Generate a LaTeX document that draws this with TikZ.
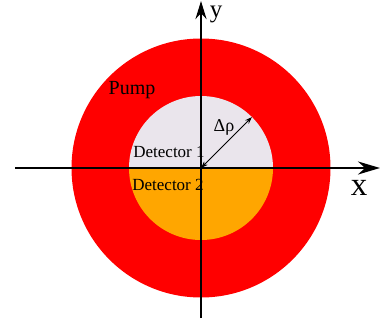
\documentclass[tikz,border=0pt]{standalone}
\usepackage{fontspec}
\setmainfont{Liberation Serif}
\usetikzlibrary{arrows.meta,calc}
\definecolor{pumpred}{RGB}{255,0,0}
\definecolor{detone}{RGB}{234,229,236}
\definecolor{dettwo}{RGB}{255,166,0}
\begin{document}
\begin{tikzpicture}[x=1pt,y=-1pt,
  axis/.style={line width=2.6pt,-{Stealth[length=22pt,width=13pt]}},
  lbl/.style={inner sep=0pt,font=\fontsize{17}{19}\selectfont},
]
\useasboundingbox (0,0) rectangle (383,324);
\coordinate (c) at (201,168);
% pump ring
\fill[pumpred] (c) circle[radius=129.5];
% detector halves
\fill[detone] (c) ++(-72,0) arc[start angle=180,end angle=360,radius=72] -- cycle;
\fill[dettwo] (c) ++(-72,0) arc[start angle=180,end angle=0,radius=72] -- cycle;
% axes
\coordinate (xs) at (15,168);
\coordinate (xe) at (380,168);
\coordinate (ys) at (201,318);
\coordinate (ye) at (201,1);
\draw[axis] (xs) -- (xe);
\draw[axis,-{Stealth[length=18pt,width=11pt]}] (ys) -- (ye);
% delta rho arrow
\coordinate (rim) at ($(c)+(50.9,-50.9)$);
\draw[line width=0.9pt,{Stealth[length=7pt,width=5pt]}-{Stealth[length=7pt,width=5pt]}] (c) -- (rim);
% labels
\node[lbl,font=\fontsize{18}{20}\selectfont] (drho) at (224,127) {Δρ};
\node[lbl] (d1) at (169,152) {Detector 1};
\node[lbl] (d2) at (168,185) {Detector 2};
\node[lbl,font=\fontsize{20}{22}\selectfont] (pump) at (132,90) {Pump};
\node[lbl,font=\fontsize{33}{36}\selectfont] (xl) at (359,188) {x};
\node[lbl,font=\fontsize{25}{27}\selectfont] (yl) at (216,14) {y};
\end{tikzpicture}
\end{document}
